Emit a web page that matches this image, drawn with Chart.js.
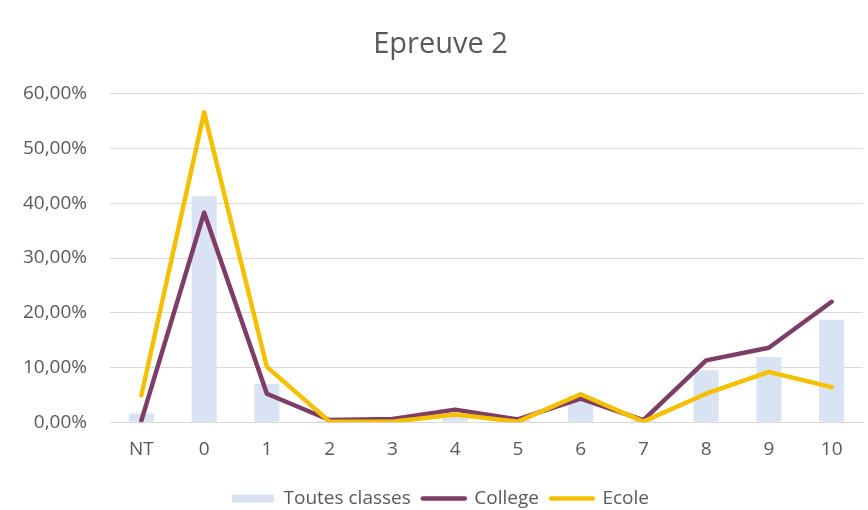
<!DOCTYPE html>
<html>
<head>
<meta charset="utf-8">
<script src="https://cdn.jsdelivr.net/npm/chart.js@4.4.1/dist/chart.umd.min.js"></script>
<style>
  html, body { margin: 0; padding: 0; background: #ffffff; }
  #wrap { width: 868px; height: 510px; }
</style>
</head>
<body>
<div id="wrap"><canvas id="chart" width="868" height="510"></canvas></div>
<script>
// Score categories (NT = non traité) and share of pupils per score, in percent
const categories = ['NT', '0', '1', '2', '3', '4', '5', '6', '7', '8', '9', '10'];
const toutesClasses = [1.6, 41.3, 7.0, 0.2, 0.3, 1.5, 0.4, 4.8, 0.3, 9.5, 11.9, 18.7];
const college = [0.3, 38.3, 5.2, 0.4, 0.6, 2.3, 0.5, 4.3, 0.4, 11.3, 13.6, 22.0];
const ecole = [4.9, 56.6, 10.1, 0.1, 0.1, 1.4, 0.1, 5.1, 0.1, 5.2, 9.2, 6.4];
const yTicks = [0, 10, 20, 30, 40, 50, 60];

const TEXT = '#595959';
const GRID = '#d9d9d9';
const FONT = 'Open Sans';

const fmtPct = v => v.toFixed(2).replace('.', ',') + '%';

new Chart(document.getElementById('chart'), {
  data: {
    labels: categories,
    datasets: [
      {
        type: 'bar',
        label: 'Toutes classes',
        data: toutesClasses,
        backgroundColor: '#dae3f3',
        barPercentage: 0.4,
        categoryPercentage: 1,
        order: 3
      },
      {
        type: 'line',
        label: 'College',
        data: college,
        borderColor: '#7e3d66',
        borderWidth: 4.5,
        pointRadius: 0,
        tension: 0,
        borderJoinStyle: 'round',
        borderCapStyle: 'round',
        order: 2
      },
      {
        type: 'line',
        label: 'Ecole',
        data: ecole,
        borderColor: '#f5c000',
        borderWidth: 4.5,
        pointRadius: 0,
        tension: 0,
        borderJoinStyle: 'round',
        borderCapStyle: 'round',
        order: 1
      }
    ]
  },
  options: {
    responsive: false,
    animation: false,
    devicePixelRatio: 1,
    layout: { padding: { left: 18, right: 5, top: 0, bottom: -8 } },
    plugins: {
      tooltip: { enabled: false },
      title: {
        display: true,
        text: 'Epreuve 2',
        color: TEXT,
        font: { family: FONT, size: 29, weight: 'normal' },
        padding: { top: 27, bottom: 32 }
      },
      legend: {
        position: 'bottom',
        labels: {
          color: TEXT,
          font: { family: FONT, size: 19 },
          usePointStyle: true,
          pointStyleWidth: 42,
          boxHeight: 8,
          padding: 12,
          generateLabels: chart => chart.data.datasets.map((ds, i) => ({
            text: ds.label,
            datasetIndex: i,
            fillStyle: ds.type === 'bar' ? ds.backgroundColor : ds.borderColor,
            strokeStyle: ds.type === 'bar' ? ds.backgroundColor : ds.borderColor,
            lineWidth: ds.type === 'bar' ? 0 : 4.5,
            lineCap: 'round',
            pointStyle: ds.type === 'bar' ? 'rect' : 'line',
            fontColor: TEXT,
            hidden: false
          }))
        }
      }
    },
    scales: {
      x: {
        grid: { display: false, drawTicks: false },
        border: { display: true, color: GRID, width: 1 },
        ticks: { color: TEXT, font: { family: FONT, size: 19 }, padding: 16 }
      },
      y: {
        min: 0,
        max: 60,
        afterBuildTicks: scale => { scale.ticks = yTicks.map(v => ({ value: v })); },
        afterFit: scale => { scale.width = 92; },
        grid: { color: GRID, lineWidth: 1, drawTicks: false },
        border: { display: false },
        ticks: { color: TEXT, font: { family: FONT, size: 19 }, padding: 23, callback: v => fmtPct(v) }
      }
    }
  }
});
</script>
</body>
</html>
